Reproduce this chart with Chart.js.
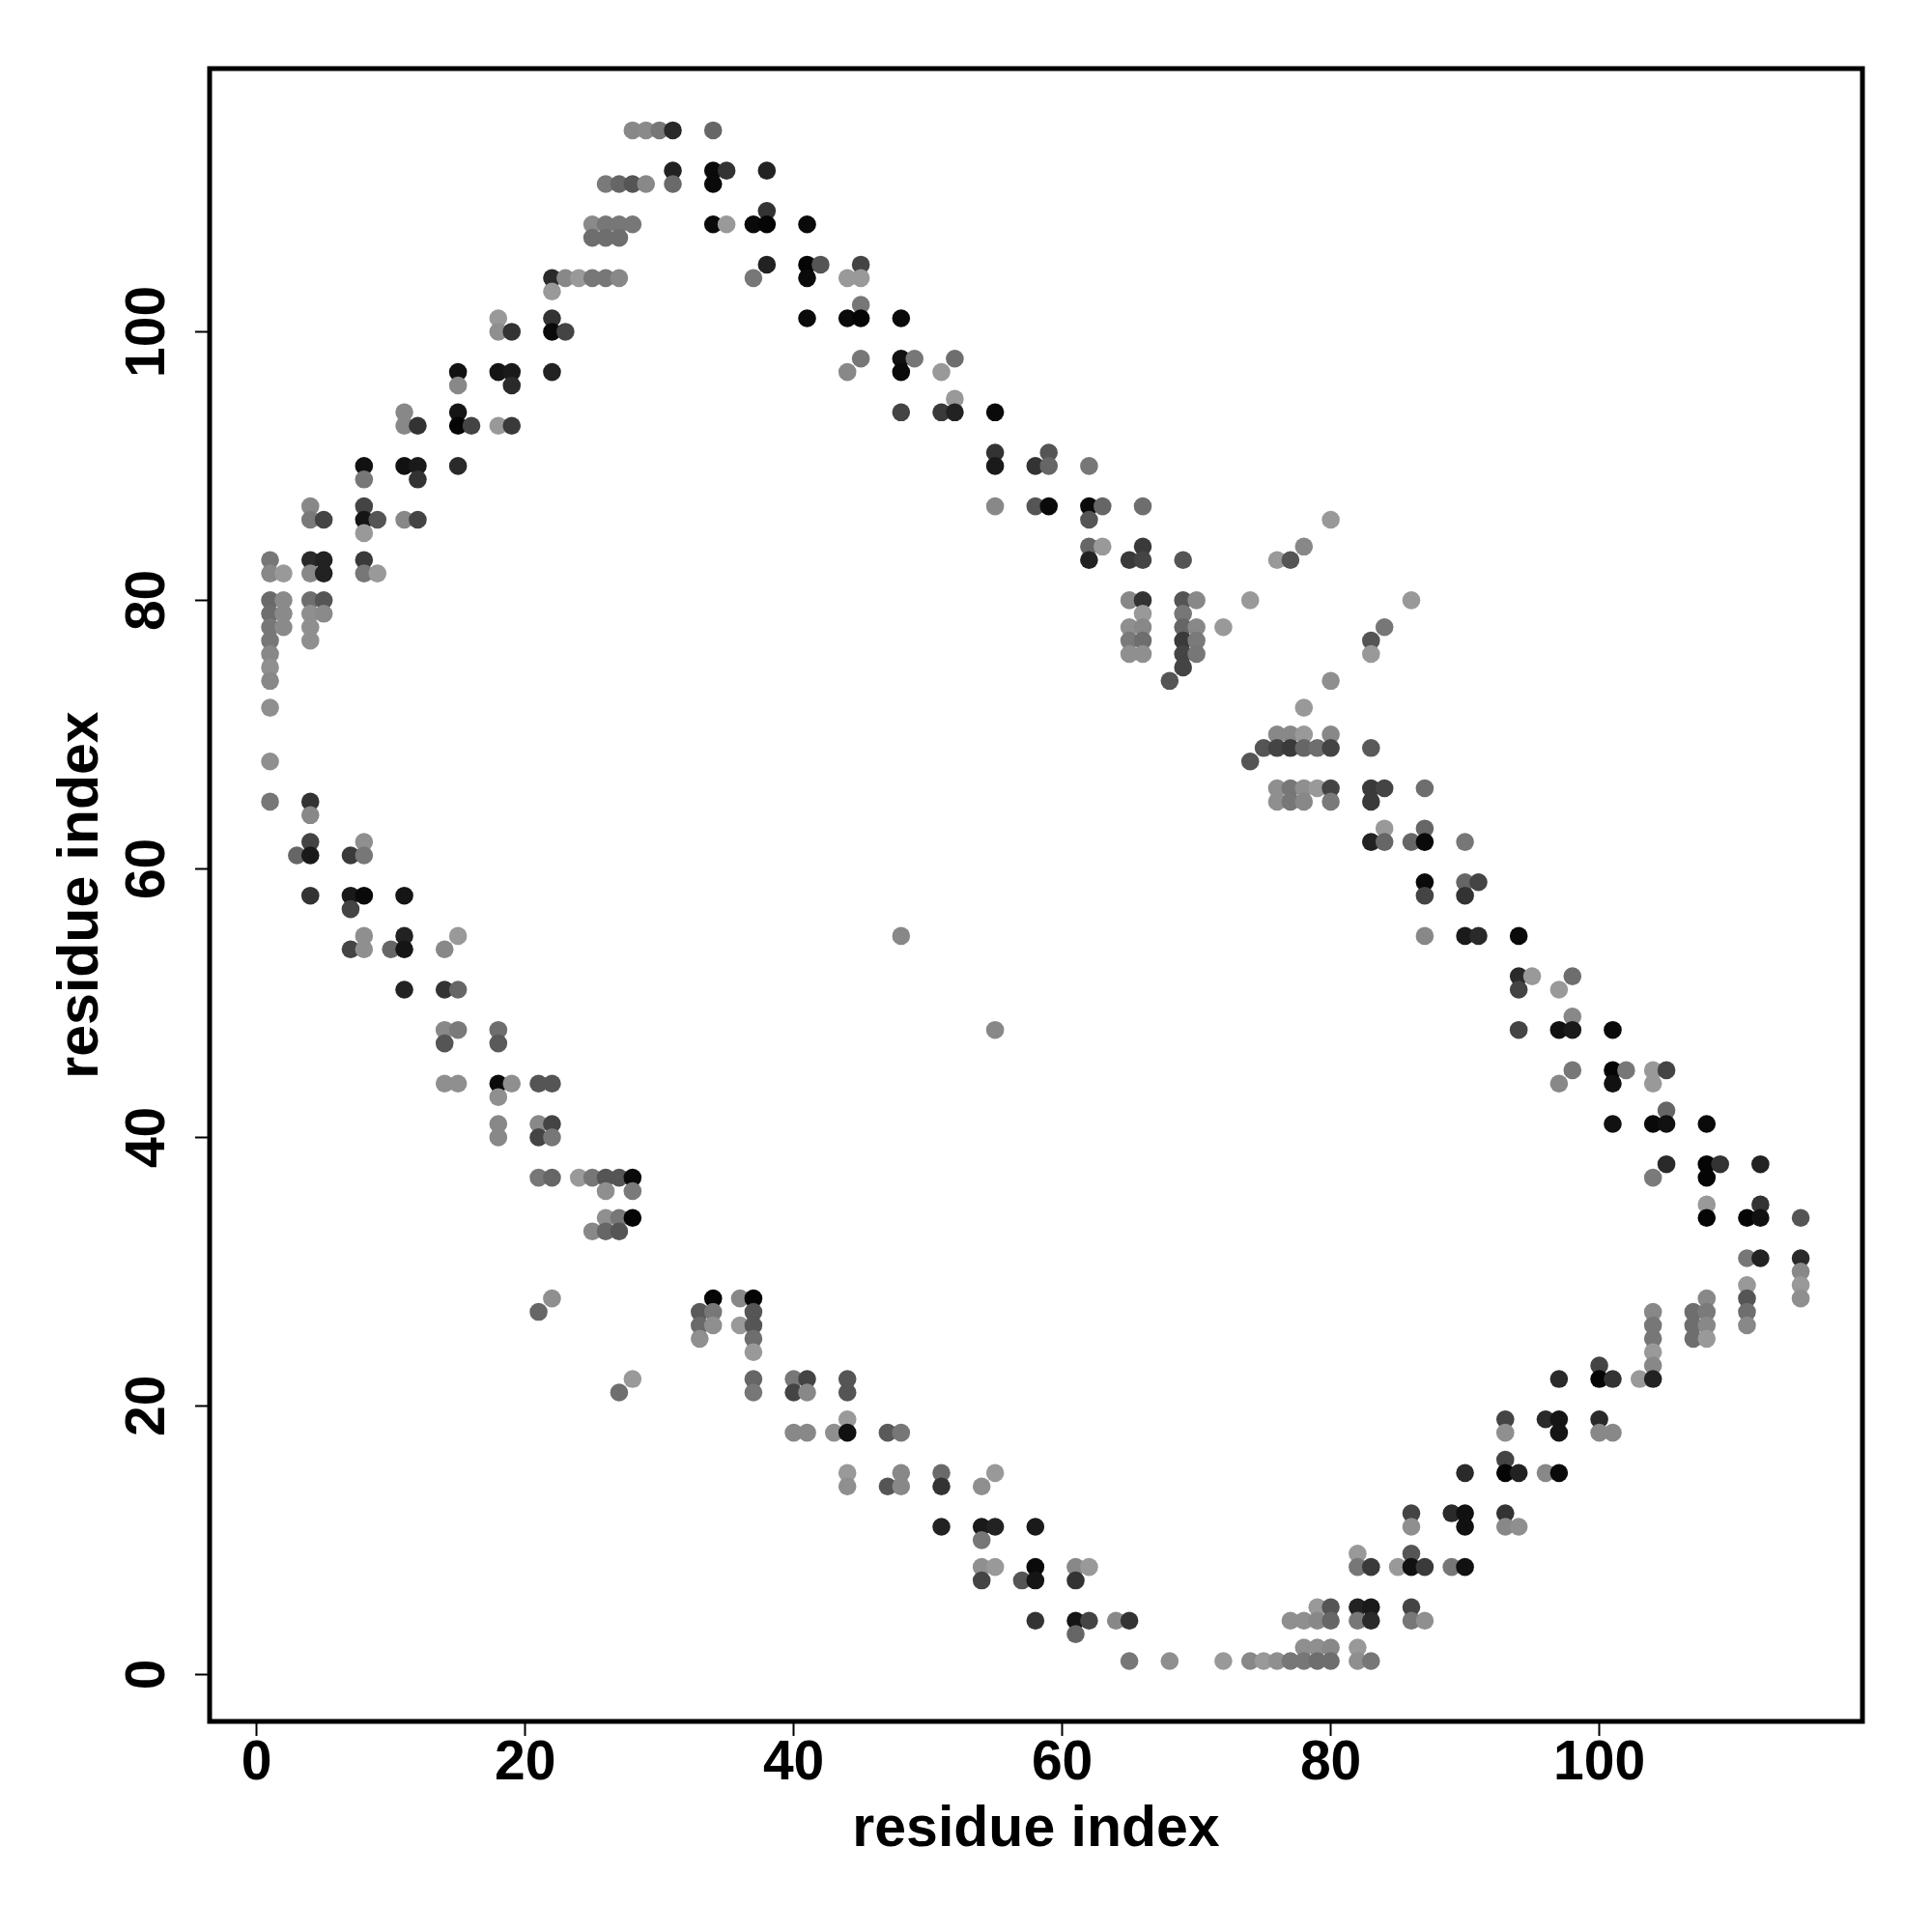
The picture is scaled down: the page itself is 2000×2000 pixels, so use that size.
<!DOCTYPE html>
<html><head><meta charset="utf-8">
<script src="https://cdn.jsdelivr.net/npm/chart.js@4"></script>
<style>html,body{margin:0;padding:0;background:#fff}</style>
</head><body>
<canvas id="c" width="2000" height="2000"></canvas>
<script>
// Tick labels and axis titles
const xTicks = [0, 20, 40, 60, 80, 100];
const yTicks = [0, 20, 40, 60, 80, 100];
const xTitle = 'residue index';
const yTitle = 'residue index';

// Contacts, grouped by the residue on the vertical axis
const rowY = [115,112,111,109,108,107,105,104,103,102,101,100,98,97,96,95,94,93,91,90,89,87,86,85,84,83,82,80,79,78,77,76,75,74,72,70,69,68,66,65,64,63,62,61,59,58,57,55,54,52,51,49,48,47,45,44,43,42,41,40,38,37,36,35,34,33,31,30,29,28,27,26,25,24,23,22,21,19,18,16,15,14,12,11,10,9,8,7,5,4,3,2,1];
const rowX = [
 [28,29,30,31,34],
 [31,34,35,38],
 [26,27,28,29,31,34],
 [38],
 [25,26,27,28,34,35,37,38,41],
 [25,26,27],
 [38,41,42,45],
 [22,23,24,25,26,27,37,41,44,45],
 [22],
 [45],
 [18,22,41,44,45,48],
 [18,19,22,23],
 [45,48,49,52],
 [15,18,19,22,44,48,51],
 [15,19],
 [52],
 [11,15,48,51,52,55],
 [11,12,15,16,18,19],
 [55,59],
 [8,11,12,15,55,58,59,62],
 [8,12],
 [4,8,55,58,59,62,63,66],
 [4,5,8,9,11,12,62,80],
 [8],
 [62,63,66,78],
 [1,4,5,8,62,65,66,69,76,77],
 [1,2,4,5,8,9],
 [1,2,4,5,65,66,69,70,74,86],
 [1,2,4,5,66,69],
 [1,2,4,65,66,69,70,72,84],
 [1,4,65,66,69,70,83],
 [1,65,66,69,70,83],
 [1,69],
 [1,68,80],
 [1,78],
 [76,77,78,80],
 [75,76,77,78,79,80,83],
 [1,74],
 [76,77,78,79,80,83,84,87],
 [1,4,76,77,78,80,83],
 [4],
 [84,87],
 [4,8,83,84,86,87,90],
 [3,4,7,8],
 [87,90,91],
 [4,7,8,11,87,90],
 [7],
 [8,11,15,48,87,90,91,94],
 [7,8,10,11,14],
 [94,95,98],
 [11,14,15,94,97],
 [98],
 [14,15,18,55,94,97,98,101],
 [14,18],
 [98,101,102,104,105],
 [14,15,18,19,21,22,97,101,104],
 [18],
 [105],
 [18,21,22,101,104,105,108],
 [18,21,22],
 [105,108,109,112],
 [21,22,24,25,26,27,28,104,108],
 [26,28],
 [108,112],
 [26,27,28,108,111,112,115],
 [25,26,27],
 [111,112,115],
 [115],
 [111,115],
 [22,34,36,37,108,111,115],
 [21,33,34,37,104,107,108,111],
 [33,34,36,37,104,107,108,111],
 [33,37,104,107,108],
 [37,104],
 [100,104],
 [28,37,40,41,44,97,100,101,103,104],
 [27,37,40,41,44],
 [44,93,96,97,100],
 [40,41,43,44,47,48,93,97,100,101],
 [93],
 [44,48,51,55,90,93,94,96,97],
 [44,47,48,51,54],
 [86,89,90,93],
 [51,54,55,58,86,90,93,94],
 [54],
 [82,86],
 [54,55,58,61,62,82,83,85,86,87,89,90],
 [54,57,58,61],
 [79,80,82,83,86],
 [58,61,62,64,65,77,78,79,80,82,83,86,87],
 [61],
 [78,79,80,82],
 [65,68,72,74,75,76,77,78,79,80,82,83]
];
// Grey level of each contact (0 = black, 255 = white)
const rowShade = [
 [136,138,119,42,102],
 [34,10,51,34],
 [122,102,85,136,106,10],
 [51],
 [138,119,119,119,10,153,10,5,10],
 [110,110,110],
 [34,5,85,68],
 [42,136,153,119,119,136,119,10,153,153],
 [153],
 [119],
 [153,51,10,10,5,10],
 [143,51,10,68],
 [119,17,119,110],
 [17,21,26,34,136,10,153],
 [136,42],
 [153],
 [136,21,68,58,34,10],
 [136,51,5,68,153,58],
 [51,85],
 [17,17,26,42,26,51,102,119],
 [119,51],
 [136,68,136,85,10,10,102,110],
 [122,68,21,85,136,68,85,153],
 [153],
 [102,153,58,136],
 [119,42,34,58,34,58,68,85,153,85],
 [136,153,136,34,119,153],
 [106,138,110,85,136,51,85,136,153,153],
 [110,138,143,138,153,119],
 [119,138,143,143,136,102,136,153,119],
 [119,143,122,110,58,122,85],
 [136,143,143,68,119,153],
 [143,68],
 [136,85,143],
 [143,153],
 [136,136,153,136],
 [85,68,58,102,110,68,90],
 [143,85],
 [143,119,143,153,68,58,68,110],
 [119,51,143,119,136,122,58],
 [136],
 [153,102],
 [68,143,34,102,102,10,119],
 [102,26,58,119],
 [10,102,68],
 [51,26,10,21,68,51],
 [68],
 [143,34,153,136,136,26,42,10],
 [68,143,102,21,136],
 [42,153,110],
 [34,51,102,68,153],
 [136],
 [136,122,110,136,68,17,26,10],
 [85,90],
 [119,5,119,153,68],
 [143,143,10,143,85,85,136,17,153],
 [143],
 [102],
 [136,136,68,17,10,17,10],
 [136,68,119],
 [42,5,51,34],
 [119,102,153,119,85,85,10,122,5],
 [143,122],
 [153,51],
 [143,119,5,5,5,17,85],
 [136,102,85],
 [119,34,42],
 [136],
 [153,153],
 [143,5,136,5,136,85,143],
 [102,90,119,85,136,110,122,110],
 [106,143,153,85,119,110,136,136],
 [143,110,119,110,153],
 [153,153],
 [68,136],
 [153,102,119,68,85,42,5,51,153,34],
 [110,119,68,136,85],
 [153,68,42,21,42],
 [136,136,143,17,90,119,143,21,136,136],
 [68],
 [153,136,106,153,42,5,34,136,10],
 [143,85,136,51,143],
 [68,42,17,51],
 [34,26,34,26,143,17,136,143],
 [119],
 [153,85],
 [143,153,10,136,153,119,58,153,17,58,119,17],
 [68,85,21,51],
 [153,85,34,26,68],
 [51,21,68,136,51,143,143,136,102,119,42,119,143],
 [102],
 [143,143,136,153],
 [119,143,153,136,153,143,119,119,110,110,143,119]
];

const points = [];
const colors = [];
rowY.forEach((yv, r) => {
  rowX[r].forEach((xv, k) => {
    points.push({x: xv, y: yv});
    const g = rowShade[r][k];
    colors.push(`rgb(${g},${g},${g})`);
  });
});

const FONT = '"Liberation Sans", Arial, Helvetica, sans-serif';
const framePlugin = {
  id: 'frame',
  afterDraw(chart) {
    const {ctx, chartArea: a, scales} = chart;
    ctx.save();
    ctx.lineWidth = 5;
    ctx.strokeStyle = '#000';
    ctx.strokeRect(a.left, a.top, a.right - a.left, a.bottom - a.top);
    ctx.fillStyle = '#000';
    ctx.textAlign = 'center';
    ctx.textBaseline = 'alphabetic';
    ctx.font = 'bold 57px ' + FONT;
    xTicks.forEach(v => ctx.fillText(String(v), scales.x.getPixelForValue(v), 1842));
    yTicks.forEach(v => {
      ctx.save();
      ctx.translate(170, scales.y.getPixelForValue(v));
      ctx.rotate(-Math.PI / 2);
      ctx.fillText(String(v), 0, 0);
      ctx.restore();
    });
    ctx.font = 'bold 59px ' + FONT;
    ctx.fillText(xTitle, (a.left + a.right) / 2, 1911);
    ctx.save();
    ctx.translate(101, (a.top + a.bottom) / 2);
    ctx.rotate(-Math.PI / 2);
    ctx.fillText(yTitle, 0, 0);
    ctx.restore();
    ctx.restore();
  }
};

const axisCommon = {
  type: 'linear',
  min: -3.5,
  max: 119.6,
  ticks: {display: false},
  grid: {drawOnChartArea: false, drawTicks: true, tickLength: 15, tickWidth: 2, tickColor: '#000'},
  border: {display: false}
};

new Chart(document.getElementById('c'), {
  type: 'scatter',
  data: {
    datasets: [{
      data: points,
      backgroundColor: colors,
      borderWidth: 0,
      pointRadius: 9.3,
      pointHoverRadius: 9.3
    }]
  },
  options: {
    responsive: false,
    animation: false,
    devicePixelRatio: 1,
    layout: {padding: {left: 0, right: 72, top: 71, bottom: 0}},
    plugins: {legend: {display: false}, tooltip: {enabled: false}},
    scales: {
      x: Object.assign({}, axisCommon, {
        position: 'bottom',
        afterBuildTicks: s => { s.ticks = xTicks.map(v => ({value: v})); },
        afterFit: s => { s.height = 218; }
      }),
      y: Object.assign({}, axisCommon, {
        position: 'left',
        afterBuildTicks: s => { s.ticks = yTicks.map(v => ({value: v})); },
        afterFit: s => { s.width = 217; }
      })
    }
  },
  plugins: [framePlugin]
});
</script>
</body></html>
